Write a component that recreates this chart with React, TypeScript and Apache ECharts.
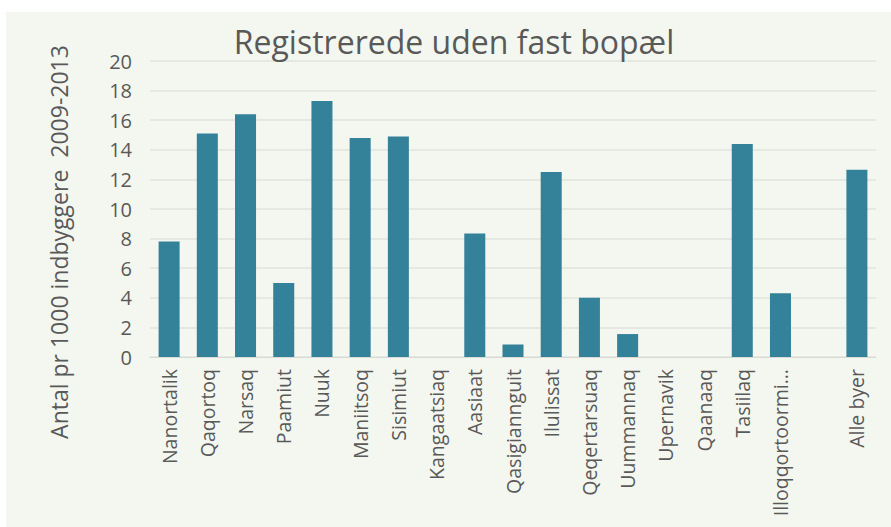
import React, { useEffect, useRef } from "react";
import * as echarts from "echarts";

const categories = [
  "Nanortalik", "Qaqortoq", "Narsaq", "Paamiut", "Nuuk", "Maniitsoq", "Sisimiut",
  "Kangaatsiaq", "Aasiaat", "Qasigiannguit", "Ilulissat", "Qeqertarsuaq", "Uummannaq",
  "Upernavik", "Qaanaaq", "Tasiilaq", "Illoqqortoormi...", "", "Alle byer",
];
const values: (number | null)[] = [
  7.8, 15.1, 16.4, 5.0, 17.3, 14.8, 14.9,
  0, 8.35, 0.85, 12.5, 4.0, 1.55,
  0, 0, 14.4, 4.3, null, 12.65,
];
const yTicks = { min: 0, max: 20, interval: 2 };
const titleText = "Registrerede uden fast bopæl";
const yAxisName = "Antal pr 1000 indbyggere  2009-2013";

export default function App() {
  const ref = useRef<HTMLDivElement>(null);
  useEffect(() => {
    if (!ref.current) return;
    const chart = echarts.init(ref.current, undefined, { renderer: "svg" });
    const textColor = "#595959";
    const font = "Open Sans";
    chart.setOption({
      animation: false,
      backgroundColor: "#f4f7ef",
      title: {
        text: titleText,
        left: 443,
        top: 8,
        textAlign: "center",
        textStyle: { color: textColor, fontFamily: font, fontSize: 32, fontWeight: "normal" },
      },
      grid: { left: 144, right: 15, top: 49, bottom: 170, containLabel: false, outerBoundsMode: "none" },
      xAxis: {
        type: "category",
        data: categories,
        axisLine: { show: true, lineStyle: { color: "#d9d9d6", width: 1 } },
        axisTick: { show: false },
        axisLabel: {
          rotate: 90,
          interval: 0,
          color: textColor,
          fontFamily: font,
          fontSize: 19.5,
          margin: 12,
        },
      },
      yAxis: {
        type: "value",
        min: yTicks.min,
        max: yTicks.max,
        interval: yTicks.interval,
        name: yAxisName,
        nameLocation: "middle",
        nameGap: 80,
        nameTextStyle: { color: textColor, fontFamily: font, fontSize: 23, padding: [0, 66, 0, 0] },
        axisLine: { show: false },
        axisTick: { show: false },
        splitLine: { lineStyle: { color: "#e2e3de", width: 1.5 } },
        axisLabel: { color: textColor, fontFamily: font, fontSize: 20, margin: 18 },
      },
      series: [
        {
          type: "bar",
          data: values,
          barCategoryGap: "45%",
          itemStyle: { color: "#34819a" },
        },
      ],
    });
    return () => chart.dispose();
  }, []);
  return (
    <div style={{ position: "absolute", left: 0, top: 0, width: 891, height: 527, background: "#ffffff" }}>
      <div ref={ref} style={{ position: "absolute", left: 6, top: 12, width: 885, height: 515 }} />
    </div>
  );
}
